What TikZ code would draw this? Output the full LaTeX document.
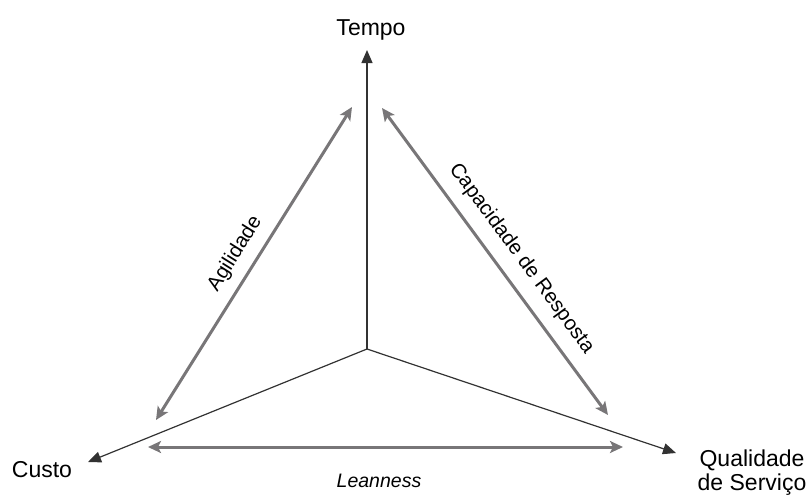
\documentclass[tikz,border=0pt]{standalone}
\usepackage{fontspec}
\setmainfont{Liberation Sans}
\usetikzlibrary{arrows.meta}

\definecolor{axisline}{RGB}{50,50,50}
\definecolor{relarrow}{RGB}{120,118,120}

\tikzset{
  axis/.style={draw=axisline, line width=1.2pt, -{Triangle[length=13pt,width=11pt]}},
  relation/.style={draw=relarrow, line width=3pt,
    {Stealth[length=13pt,width=12pt,inset=3pt]}-{Stealth[length=13pt,width=12pt,inset=3pt]}},
  pole/.style={font=\fontsize{23}{24}\selectfont, text=black, inner sep=0pt, align=center},
  rellabel/.style={font=\fontsize{20.5}{22}\selectfont, text=black, inner sep=0pt, sloped},
}

\begin{document}
\begin{tikzpicture}[x=1pt, y=-1pt]
  \useasboundingbox (0,0) rectangle (811,496);
  \clip (0,0) rectangle (811,496);

  % axes from the common origin
  \coordinate (o) at (367,349);
  \coordinate (tT) at (367,50);
  \coordinate (tC) at (88,462);
  \coordinate (tQ) at (676,453);
  \draw[axis] (o) -- (tT);
  \draw[axis] (o) -- (tC);
  \draw[axis] (o) -- (tQ);

  % pole labels
  \node[pole, anchor=base] (tempo) at (371,35) {Tempo};
  \node[pole, anchor=base] (custo) at (42,477) {Custo};
  \node[pole, anchor=base] (qual) at (752,466) {Qualidade};
  \node[pole, anchor=base] (serv) at (752,490) {de Serviço};

  % trade-off arrows between the poles
  \coordinate (a1) at (156,420);
  \coordinate (a2) at (352,107);
  \coordinate (b1) at (382,108);
  \coordinate (b2) at (608,415);
  \coordinate (l1) at (148,447);
  \coordinate (l2) at (623,447);

  \draw[relation] (a1) -- node[rellabel, pos=0.495, above=10pt] (agil) {Agilidade} (a2);
  \draw[relation] (b1) -- node[rellabel, pos=0.535, above=12pt] (resp) {Capacidade de Resposta} (b2);
  \draw[relation] (l1) -- (l2);
  \node[font=\fontsize{19.5}{21}\selectfont\itshape, inner sep=0pt, anchor=base] (lean) at (379,487) {Leanness};
\end{tikzpicture}
\end{document}
